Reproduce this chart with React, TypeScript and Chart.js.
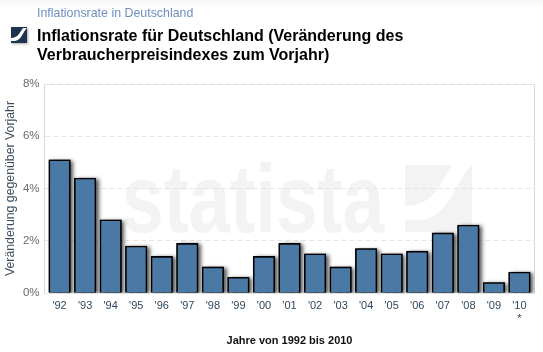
import React, { useEffect, useRef } from "react";
import { Chart, registerables } from "chart.js";

Chart.register(...registerables);

const categories = ["'92", "'93", "'94", "'95", "'96", "'97", "'98", "'99", "'00", "'01", "'02", "'03", "'04", "'05", "'06", "'07", "'08", "'09", "'10"];
const inflation = [5.1, 4.4, 2.8, 1.8, 1.4, 1.9, 1.0, 0.6, 1.4, 1.9, 1.5, 1.0, 1.7, 1.5, 1.6, 2.3, 2.6, 0.4, 0.8];
const subtitle = "Inflationsrate in Deutschland";
const titleLines = ["Inflationsrate für Deutschland (Veränderung des", "Verbraucherpreisindexes zum Vorjahr)"];
const yTitle = "Veränderung gegenüber Vorjahr";
const xTitle = "Jahre von 1992 bis 2010";
const footMark = "*";
const watermark = "statista";

const FONT = "'Liberation Sans', Arial, sans-serif";

const backdrop = {
  id: "backdrop",
  beforeDraw(chart: any) {
    const { ctx, chartArea: a } = chart;
    ctx.save();
    // watermark word, condensed to the reference's width
    ctx.fillStyle = "#f3f3f3";
    ctx.save();
    ctx.translate(122, 232);
    ctx.scale(0.78, 1);
    ctx.font = `bold 96px ${FONT}`;
    ctx.textBaseline = "alphabetic";
    ctx.fillText(watermark, 0, 0);
    ctx.restore();
    // watermark swoosh
    ctx.fillRect(405, 165, 67, 67);
    ctx.fillStyle = "#ffffff";
    ctx.beginPath();
    ctx.moveTo(405, 206);
    ctx.bezierCurveTo(425, 206, 435, 195, 442, 182);
    ctx.lineTo(452, 165);
    ctx.lineTo(472, 165);
    ctx.bezierCurveTo(455, 180, 450, 218, 420, 220);
    ctx.lineTo(405, 220);
    ctx.closePath();
    ctx.fill();
    // plot frame
    const top = a.top + 0.5;
    const bottom = a.bottom + 0.5;
    ctx.strokeStyle = "#d8d8d8";
    ctx.lineWidth = 1;
    ctx.beginPath();
    ctx.moveTo(a.left, bottom);
    ctx.lineTo(a.left, top);
    ctx.lineTo(a.right, top);
    ctx.lineTo(a.right, bottom);
    ctx.lineTo(a.left, bottom);
    ctx.stroke();
    ctx.restore();
  },
  beforeDatasetsDraw(chart: any) {
    // The bar element clips its border, so shadows are painted from its geometry first.
    const { ctx, chartArea: a } = chart;
    ctx.save();
    ctx.beginPath();
    ctx.rect(a.left, a.top, a.right - a.left, a.bottom - a.top);
    ctx.clip();
    ctx.shadowColor = "rgba(0,0,0,0.65)";
    ctx.shadowOffsetX = 3;
    ctx.shadowOffsetY = 1;
    ctx.shadowBlur = 4;
    ctx.fillStyle = "#000000";
    for (const el of chart.getDatasetMeta(0).data) {
      ctx.fillRect(el.x - el.width / 2, el.y, el.width, el.base - el.y);
    }
    ctx.restore();
  },
};

export default function App() {
  const ref = useRef<HTMLCanvasElement | null>(null);
  useEffect(() => {
    if (!ref.current) return;
    const chart = new Chart(ref.current, {
      type: "bar",
      data: {
        datasets: [
          {
            data: inflation.map((y, x) => ({ x, y })),
            backgroundColor: "#4a79a5",
            borderColor: "#000000",
            borderWidth: { top: 1.6, left: 1.6, right: 1.6, bottom: 0 },
            barThickness: 21.5,
          },
        ],
      },
      options: {
        animation: false,
        responsive: false,
        layout: { padding: { top: 84, right: 8.5, left: 0, bottom: 0 } },
        plugins: { legend: { display: false }, tooltip: { enabled: false } },
        scales: {
          x: {
            type: "linear",
            min: -0.59,
            max: 18.59,
            offset: false,
            afterBuildTicks(scale: any) {
              scale.ticks = categories.map((_, i) => ({ value: i }));
            },
            afterFit(scale: any) {
              scale.height = 59;
            },
            grid: { display: false },
            border: { display: false },
            ticks: {
              autoSkip: false,
              maxRotation: 0,
              padding: -2,
              color: "#30475e",
              font: { family: FONT, size: 11 },
              callback: (v: any) => (v === 18 ? [categories[18], footMark] : categories[v]),
            },
            title: {
              display: true,
              text: xTitle,
              color: "#111111",
              font: { family: FONT, size: 11, weight: "bold" },
              padding: { top: 0, bottom: 4 },
            },
          },
          y: {
            min: 0,
            max: 8,
            afterFit(scale: any) {
              scale.width = 44.5;
            },
            grid: { color: "#e6e6e6", drawTicks: false },
            border: { display: false, dash: [5, 3] },
            ticks: {
              stepSize: 2,
              padding: 5,
              color: "#6e6a64",
              font: { family: FONT, size: 11.5 },
              callback: (v: any) => `${v}%`,
            },
            title: {
              display: true,
              text: yTitle,
              color: "#3c4c5c",
              font: { family: FONT, size: 12.3 },
              padding: { top: 3, bottom: 0 },
            },
          },
        },
      } as any,
      plugins: [backdrop],
    });
    return () => chart.destroy();
  }, []);

  return (
    <div style={{ position: "absolute", left: 0, top: 0, width: 543, height: 352, background: "#fff", overflow: "hidden", fontFamily: FONT }}>
      <div style={{ position: "absolute", left: 0, top: 0, width: 543, height: 10, background: "linear-gradient(#f6f6f6,#ffffff)" }} />
      <canvas ref={ref} width={543} height={352} style={{ position: "absolute", left: 0, top: 0, display: "block" }} />
      <div style={{ position: "absolute", left: 37, top: 6, fontSize: 12.4, lineHeight: "15px", color: "#6f8fbf", whiteSpace: "nowrap" }}>{subtitle}</div>
      <svg width={18} height={18} style={{ position: "absolute", left: 11, top: 27, filter: "drop-shadow(1px 1px 1px rgba(0,0,0,0.35))" }}>
        <rect width={16} height={16} fill="#1d3350" />
        <path d="M0 11 C6 11 8 7 10 4 L12 1 L16 1 C12 4 11 13 4 14 L0 14 Z" fill="#ffffff" />
      </svg>
      <div style={{ position: "absolute", left: 37, top: 26, fontSize: 16, lineHeight: "19px", fontWeight: "bold", color: "#000", whiteSpace: "nowrap" }}>
        {titleLines.map((l) => (
          <div key={l}>{l}</div>
        ))}
      </div>
    </div>
  );
}
